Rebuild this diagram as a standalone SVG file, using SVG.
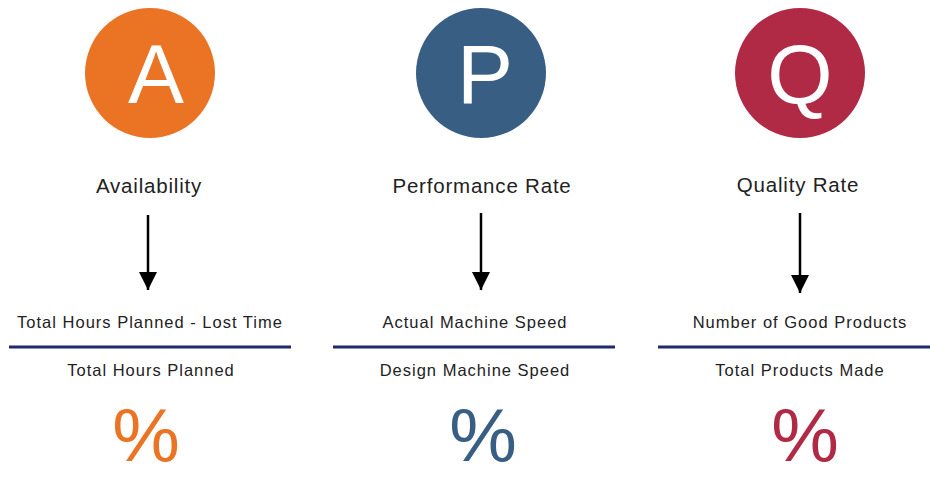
<svg xmlns="http://www.w3.org/2000/svg" width="930" height="478" viewBox="0 0 930 478">
<defs>
<style>
.letter{font-family:"Liberation Sans",Arial,sans-serif;font-size:84px;fill:#fff;text-anchor:middle}
.title{font-family:"Liberation Sans",Arial,sans-serif;font-size:20.5px;letter-spacing:0.8px;fill:#222;text-anchor:middle}
.frac{font-family:"Liberation Sans",Arial,sans-serif;font-size:16.5px;letter-spacing:1px;fill:#222;text-anchor:middle}
.pct{font-family:"Liberation Sans",Arial,sans-serif;font-size:76px;text-anchor:middle}
.bar{stroke:#1e2a6a;stroke-width:3}
.arrow{stroke:#000;stroke-width:2.5;fill:none}
</style>
<marker id="ah" viewBox="0 0 18 20" refX="18" refY="9" markerWidth="18" markerHeight="20" markerUnits="userSpaceOnUse" orient="auto">
<path d="M0,0 L18,9 L0,18 z" fill="#000"/>
</marker>
</defs>
<rect width="930" height="478" fill="#fff"/>
<g id="availability">
<circle cx="150" cy="73" r="65" fill="#EA7424"/>
<text class="letter" x="156" y="103">A</text>
<text class="title" x="149" y="193">Availability</text>
<text class="frac" x="150" y="328">Total Hours Planned - Lost Time</text>
<line class="bar" x1="9" y1="347" x2="291" y2="347"/>
<text class="frac" x="151" y="376">Total Hours Planned</text>
<text class="pct" x="146" y="461" fill="#EA7424">%</text>
</g>
<g id="performance">
<circle cx="481" cy="73" r="65" fill="#385E84"/>
<text class="letter" x="485" y="103">P</text>
<text class="title" x="482" y="193">Performance Rate</text>
<text class="frac" x="475" y="328">Actual Machine Speed</text>
<line class="bar" x1="333" y1="347" x2="615" y2="347"/>
<text class="frac" x="475" y="376">Design Machine Speed</text>
<text class="pct" x="483" y="461" fill="#385E84">%</text>
</g>
<g id="quality">
<circle cx="800" cy="73" r="65" fill="#B02A46"/>
<text class="letter" x="800" y="103">Q</text>
<text class="title" x="798" y="192">Quality Rate</text>
<text class="frac" x="800" y="328">Number of Good Products</text>
<line class="bar" x1="658" y1="347" x2="930" y2="347"/>
<text class="frac" x="800" y="376">Total Products Made</text>
<text class="pct" x="805" y="461" fill="#B02A46">%</text>
</g>
<g id="connectors">
<line class="arrow" x1="148" y1="215" x2="148" y2="290" marker-end="url(#ah)"/>
<line class="arrow" x1="481" y1="213" x2="481" y2="290" marker-end="url(#ah)"/>
<line class="arrow" x1="800" y1="213" x2="800" y2="293" marker-end="url(#ah)"/>
</g>
</svg>
